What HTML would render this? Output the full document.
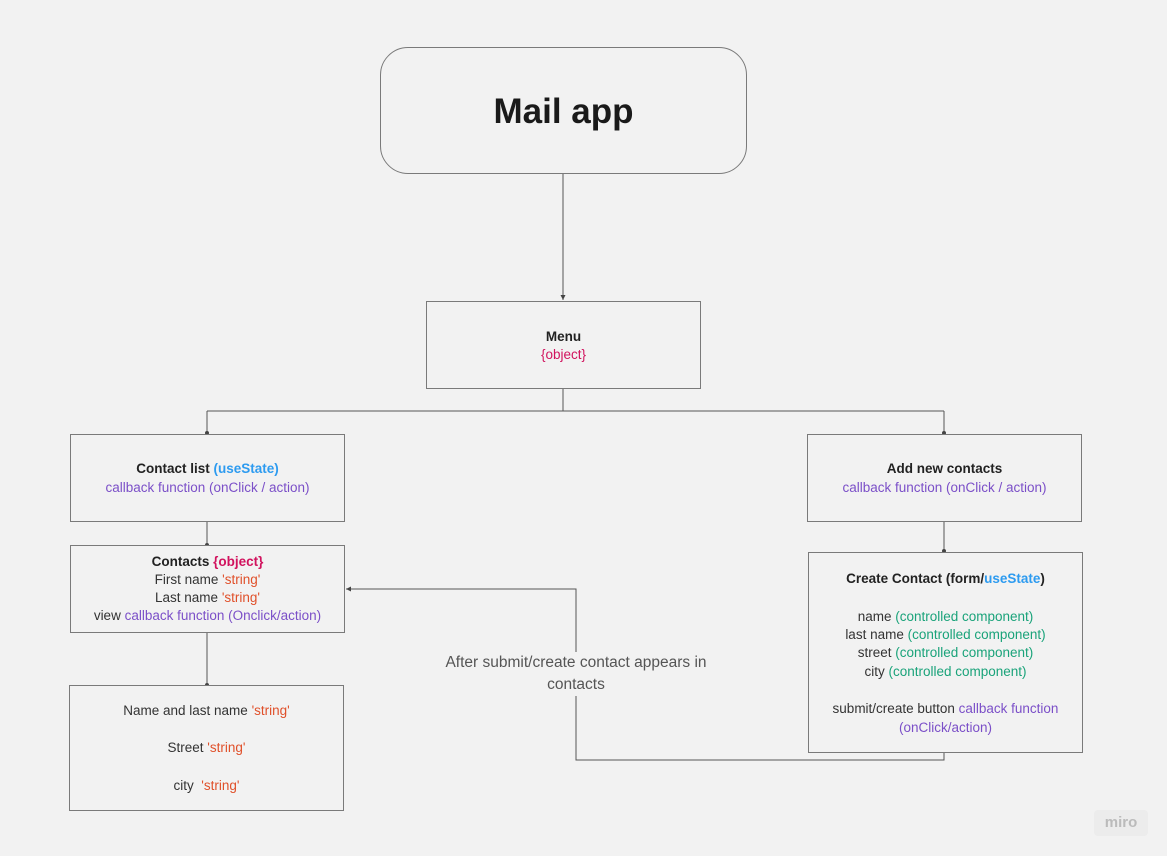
<!DOCTYPE html>
<html><head><meta charset="utf-8"><style>
body{margin:0;width:1167px;height:856px;background:#f2f2f2;font-family:"Liberation Sans",sans-serif;position:relative;overflow:hidden}
.b{position:absolute;border:1px solid #7a7a7a;box-sizing:border-box;background:#f2f2f2}
.t{position:absolute;left:0;right:0;text-align:center;font-size:13.5px;color:#333;white-space:nowrap;line-height:18px}
.bd{font-weight:bold;color:#222}
.p{color:#7b4fc8}.bl{color:#2d9bf0;font-weight:bold}.pk{color:#d1135e}.o{color:#e0502a}.g{color:#1aa37a}
</style></head><body>
<svg width="1167" height="856" style="position:absolute;left:0;top:0">
<defs><marker id="a" markerWidth="6" markerHeight="6" refX="5" refY="3" orient="auto"><path d="M0,0.5 L5,3 L0,5.5z" fill="#444"/></marker></defs>
<g stroke="#555" stroke-width="1" fill="none">
<line x1="563" y1="173" x2="563" y2="300" marker-end="url(#a)"/>
<line x1="563" y1="388" x2="563" y2="411"/>
<line x1="207" y1="411" x2="944" y2="411"/>
<line x1="207" y1="411" x2="207" y2="433"/>
<line x1="944" y1="411" x2="944" y2="433"/>
<line x1="207" y1="521" x2="207" y2="545"/>
<line x1="207" y1="632" x2="207" y2="685"/>
<line x1="944" y1="521" x2="944" y2="552"/>
<polyline points="944,752 944,760 576,760 576,589 346,589" marker-end="url(#a)"/>
</g>
<g fill="#444"><circle cx="207" cy="433" r="2"/><circle cx="944" cy="433" r="2"/><circle cx="207" cy="545" r="2"/><circle cx="207" cy="685" r="2"/><circle cx="944" cy="551" r="2"/></g>
</svg>
<div class="b" style="left:380px;top:47px;width:367px;height:127px;border-radius:28px"><div class="t" style="top:42px;font-size:35px;line-height:44px;font-weight:bold;color:#1a1a1a">Mail app</div></div>
<div class="b" style="left:426px;top:301px;width:275px;height:88px"><div class="t bd" style="top:26px">Menu</div><div class="t pk" style="top:44px">{object}</div></div>
<div class="b" style="left:70px;top:434px;width:275px;height:88px"><div class="t" style="top:25px"><span class="bd">Contact list </span><span class="bl">(useState)</span></div><div class="t p" style="top:44px">callback function (onClick / action)</div></div>
<div class="b" style="left:807px;top:434px;width:275px;height:88px"><div class="t bd" style="top:25px">Add new contacts</div><div class="t p" style="top:44px">callback function (onClick / action)</div></div>
<div class="b" style="left:70px;top:545px;width:275px;height:88px"><div class="t" style="top:7px"><span class="bd">Contacts </span><span class="pk" style="font-weight:bold">{object}</span></div><div class="t" style="top:25px">First name <span class="o">'string'</span></div><div class="t" style="top:43px">Last name <span class="o">'string'</span></div><div class="t" style="top:61px">view <span class="p">callback function (Onclick/action)</span></div></div>
<div class="b" style="left:69px;top:685px;width:275px;height:126px"><div class="t" style="top:16px">Name and last name <span class="o">'string'</span></div><div class="t" style="top:53px">Street <span class="o">'string'</span></div><div class="t" style="top:91px">city&nbsp; <span class="o">'string'</span></div></div>
<div class="b" style="left:808px;top:552px;width:275px;height:201px"><div class="t" style="top:17px"><span class="bd">Create Contact (form/</span><span class="bl">useState</span><span class="bd">)</span></div>
<div class="t" style="top:55px">name <span class="g">(controlled component)</span></div>
<div class="t" style="top:73px">last name <span class="g">(controlled component)</span></div>
<div class="t" style="top:91px">street <span class="g">(controlled component)</span></div>
<div class="t" style="top:110px">city <span class="g">(controlled component)</span></div>
<div class="t" style="top:147px">submit/create button <span class="p">callback function</span></div>
<div class="t p" style="top:166px">(onClick/action)</div></div>
<div style="position:absolute;left:425px;width:302px;top:652px;text-align:center;font-size:15.5px;line-height:22px;color:#555;background:#f2f2f2">After submit/create contact appears in<br>contacts</div>
<div style="position:absolute;left:1094px;top:810px;width:54px;height:26px;background:#ececec;border-radius:4px;color:#bbb;font-size:15px;font-weight:bold;text-align:center;line-height:26px">miro</div>
</body></html>
